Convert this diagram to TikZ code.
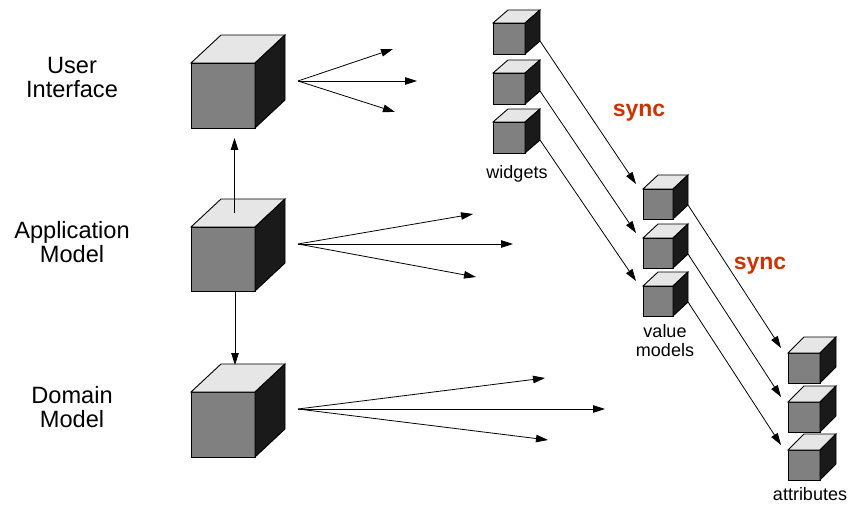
\documentclass[tikz,border=0pt]{standalone}
\usepackage{fontspec}
\setmainfont{Liberation Sans}
\usetikzlibrary{arrows.meta}
\definecolor{cubefront}{RGB}{128,128,128}
\definecolor{cubetop}{RGB}{230,230,230}
\definecolor{cubeside}{RGB}{26,26,26}
\definecolor{syncred}{RGB}{204,51,0}
\tikzset{
FACE/.style={draw=black,line join=miter,line width=0.9pt,fill=#1},
FRONT/.style={FACE=cubefront,inner sep=0pt,outer sep=0pt},
FLOW/.style={draw=black,line width=0.8pt,-{Triangle[length=12pt,width=7.5pt]}},
LABEL/.style={align=center,font=\fontsize{23.6}{24}\selectfont},
SMALLLABEL/.style={align=center,font=\fontsize{18}{19}\selectfont},
SYNC/.style={text=syncred,font=\fontsize{23}{24}\selectfont\bfseries},
}
% name, x, y (front top left), width, height, depth x, depth y
\newcommand{\solidcube}[7]{%
	\node[FRONT,minimum width=#4pt,minimum height=#5pt,anchor=north west] (#1) at (#2,#3) {};
	\path[FACE=cubetop] (#1.north west) -- ++(#6,-#7) -- ++(#4,0) -- (#1.north east) -- cycle;
	\path[FACE=cubeside] (#1.north east) -- ++(#6,-#7) -- ++(0,#5) -- (#1.south east) -- cycle;
	\path (#1.south east) ++(#6,-#7) coordinate (#1-out);
	\path (#1.north west) ++(-7,-5) coordinate (#1-in);
}

\begin{document}
\begin{tikzpicture}[x=1pt,y=-1pt] %layers and their objects
	\useasboundingbox (0,0) rectangle (853,510);
	% layers
	\solidcube{ui}{191}{63}{64}{65}{30}{28}
	\solidcube{app}{191}{227}{64}{64}{30}{28}
	\solidcube{dom}{191}{392}{64}{65}{30}{28}
	\node[LABEL] (uilabel) at (72,78) {User\\Interface};
	\node[LABEL] (applabel) at (72,242.5) {Application\\Model};
	\node[LABEL] (domlabel) at (72,407.5) {Domain\\Model};
	\path[FLOW] ([xshift=11.5pt,yshift=14pt]app.north) -- ([xshift=11.5pt,yshift=-10pt]ui.south);
	\path[FLOW] ([xshift=12pt]app.south) -- ([xshift=12pt,yshift=27pt]dom.north);
	% fans
	\coordinate (uifan) at ([xshift=43pt,yshift=14.5pt]ui.east);
	\coordinate (appfan) at ([xshift=43pt,yshift=15pt]app.east);
	\coordinate (domfan) at ([xshift=43pt,yshift=15.5pt]dom.east);
	\foreach \dx/\dy in {95/-32,119/0,97/31} \path[FLOW] (uifan) -- ++(\dx,\dy);
	\foreach \dx/\dy in {175/-30,215/0,178/33} \path[FLOW] (appfan) -- ++(\dx,\dy);
	\foreach \dx/\dy in {247/-31,307/0,250/31} \path[FLOW] (domfan) -- ++(\dx,\dy);
	% widgets, value models, attributes
	\solidcube{w1}{493}{23}{32}{31}{15}{13}
	\solidcube{w2}{493}{73}{32}{31}{15}{13}
	\solidcube{w3}{493}{122}{32}{31}{15}{13}
	\solidcube{v1}{643}{189}{30}{30}{15}{14}
	\solidcube{v2}{643}{238}{30}{30}{15}{14}
	\solidcube{v3}{643}{286}{30}{30}{15}{14}
	\solidcube{a1}{788}{353}{32}{30}{16}{16}
	\solidcube{a2}{788}{402}{32}{30}{16}{16}
	\solidcube{a3}{788}{450}{32}{30}{16}{16}
	\node[SMALLLABEL,anchor=base] (wlabel) at (517,179) {widgets};
	\node[SMALLLABEL] (vlabel) at (665,341) {value\\models};
	\node[SMALLLABEL,anchor=base] (alabel) at (810,500) {attributes};
	\path[FLOW] (w1-out) -- (v1-in);
	\path[FLOW] (w2-out) -- (v2-in);
	\path[FLOW] (w3-out) -- (v3-in);
	\path[FLOW] (v1-out) -- (a1-in);
	\path[FLOW] (v2-out) -- (a2-in);
	\path[FLOW] (v3-out) -- (a3-in);
	\node[SYNC,anchor=base] (sync1) at (639,117) {sync};
	\node[SYNC,anchor=base] (sync2) at (760,270) {sync};
\end{tikzpicture}
\end{document}
